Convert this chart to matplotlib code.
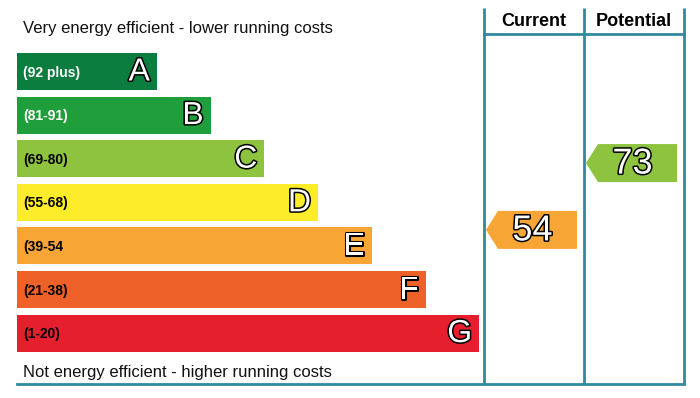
import matplotlib
matplotlib.use('Agg')
import matplotlib.pyplot as plt
import matplotlib.patheffects as pe
from matplotlib.patches import Polygon

plt.rcParams['font.family'] = ['Liberation Sans', 'DejaVu Sans']

# chart data
bands = ['A', 'B', 'C', 'D', 'E', 'F', 'G']
band_ranges = ['(92 plus)', '(81-91)', '(69-80)', '(55-68)', '(39-54', '(21-38)', '(1-20)']
band_lo = [92, 81, 69, 55, 39, 21, 1]
band_hi = [100, 91, 80, 68, 54, 38, 20]
band_colors = ['#0b7d3e', '#1f9e3b', '#8dc33f', '#fdec2a', '#f7a535', '#ee6129', '#e61f2f']
label_colors = ['white', 'white', 'black', 'black', 'black', 'black', 'black']
current_rating = 54
potential_rating = 73
top_caption = 'Very energy efficient - lower running costs'
bottom_caption = 'Not energy efficient - higher running costs'
col_titles = ['Current', 'Potential']

# layout (pixel space)
W, H = 700, 398
bar_left = 17
row0, row_step, bar_h = 71.5, 43.6, 37
bar_w0, bar_step = 140, 53.7
line_col = '#2f8a9c'
cols_x = [484, 584, 684]

fig = plt.figure(figsize=(W / 100, H / 100), dpi=100)
ax = fig.add_axes([0, 0, 1, 1])
ax.set_xlim(0, W)
ax.set_ylim(H, 0)
ax.axis('off')

ys = [row0 + i * row_step for i in range(len(bands))]
widths = [bar_w0 + i * bar_step for i in range(len(bands))]
ax.barh(ys, widths, left=bar_left, height=bar_h, color=band_colors)

outline = [pe.withStroke(linewidth=2.2, foreground='black')]
for y, w, b, r, lc in zip(ys, widths, bands, band_ranges, label_colors):
    ax.text(bar_left + 6, y + 1, r, fontsize=10, fontweight='bold', color=lc,
            ha='left', va='center')
    ax.text(bar_left + w - 7, y + 1, b, fontsize=23, color='white', ha='right',
            va='center', path_effects=outline)

ax.text(23, 28, top_caption, fontsize=12, ha='left', va='center', color='#111111')
ax.text(23, 372, bottom_caption, fontsize=12, ha='left', va='center', color='#111111')

# table lines
for x in cols_x:
    ax.plot([x, x], [8, 384], color=line_col, lw=2, solid_capstyle='butt')
ax.plot([cols_x[0], cols_x[-1]], [34, 34], color=line_col, lw=2)
ax.plot([bar_left, cols_x[-1]], [384, 384], color=line_col, lw=2)
for i, t in enumerate(col_titles):
    ax.text((cols_x[i] + cols_x[i + 1]) / 2, 21, t, fontsize=13, fontweight='bold',
            ha='center', va='center')


def band_of(v):
    for i in range(len(bands)):
        if band_lo[i] <= v <= band_hi[i]:
            return i
    return len(bands) - 1


def rating_arrow(v, col):
    i = band_of(v)
    frac = (band_hi[i] - v) / (band_hi[i] - band_lo[i])
    yc = ys[i] + (frac - 0.5) * 32
    tip = cols_x[col] + 2
    right = cols_x[col + 1] - 7
    h = 38
    pts = [(tip, yc), (tip + 12, yc - h / 2), (right, yc - h / 2),
           (right, yc + h / 2), (tip + 12, yc + h / 2)]
    ax.add_patch(Polygon(pts, closed=True, color=band_colors[i], lw=0))
    ax.text((tip + 12 + right) / 2 - 5, yc + 1, str(v), fontsize=26, color='white',
            ha='center', va='center', path_effects=outline)


rating_arrow(current_rating, 0)
rating_arrow(potential_rating, 1)

fig.savefig('out.png', dpi=100)
